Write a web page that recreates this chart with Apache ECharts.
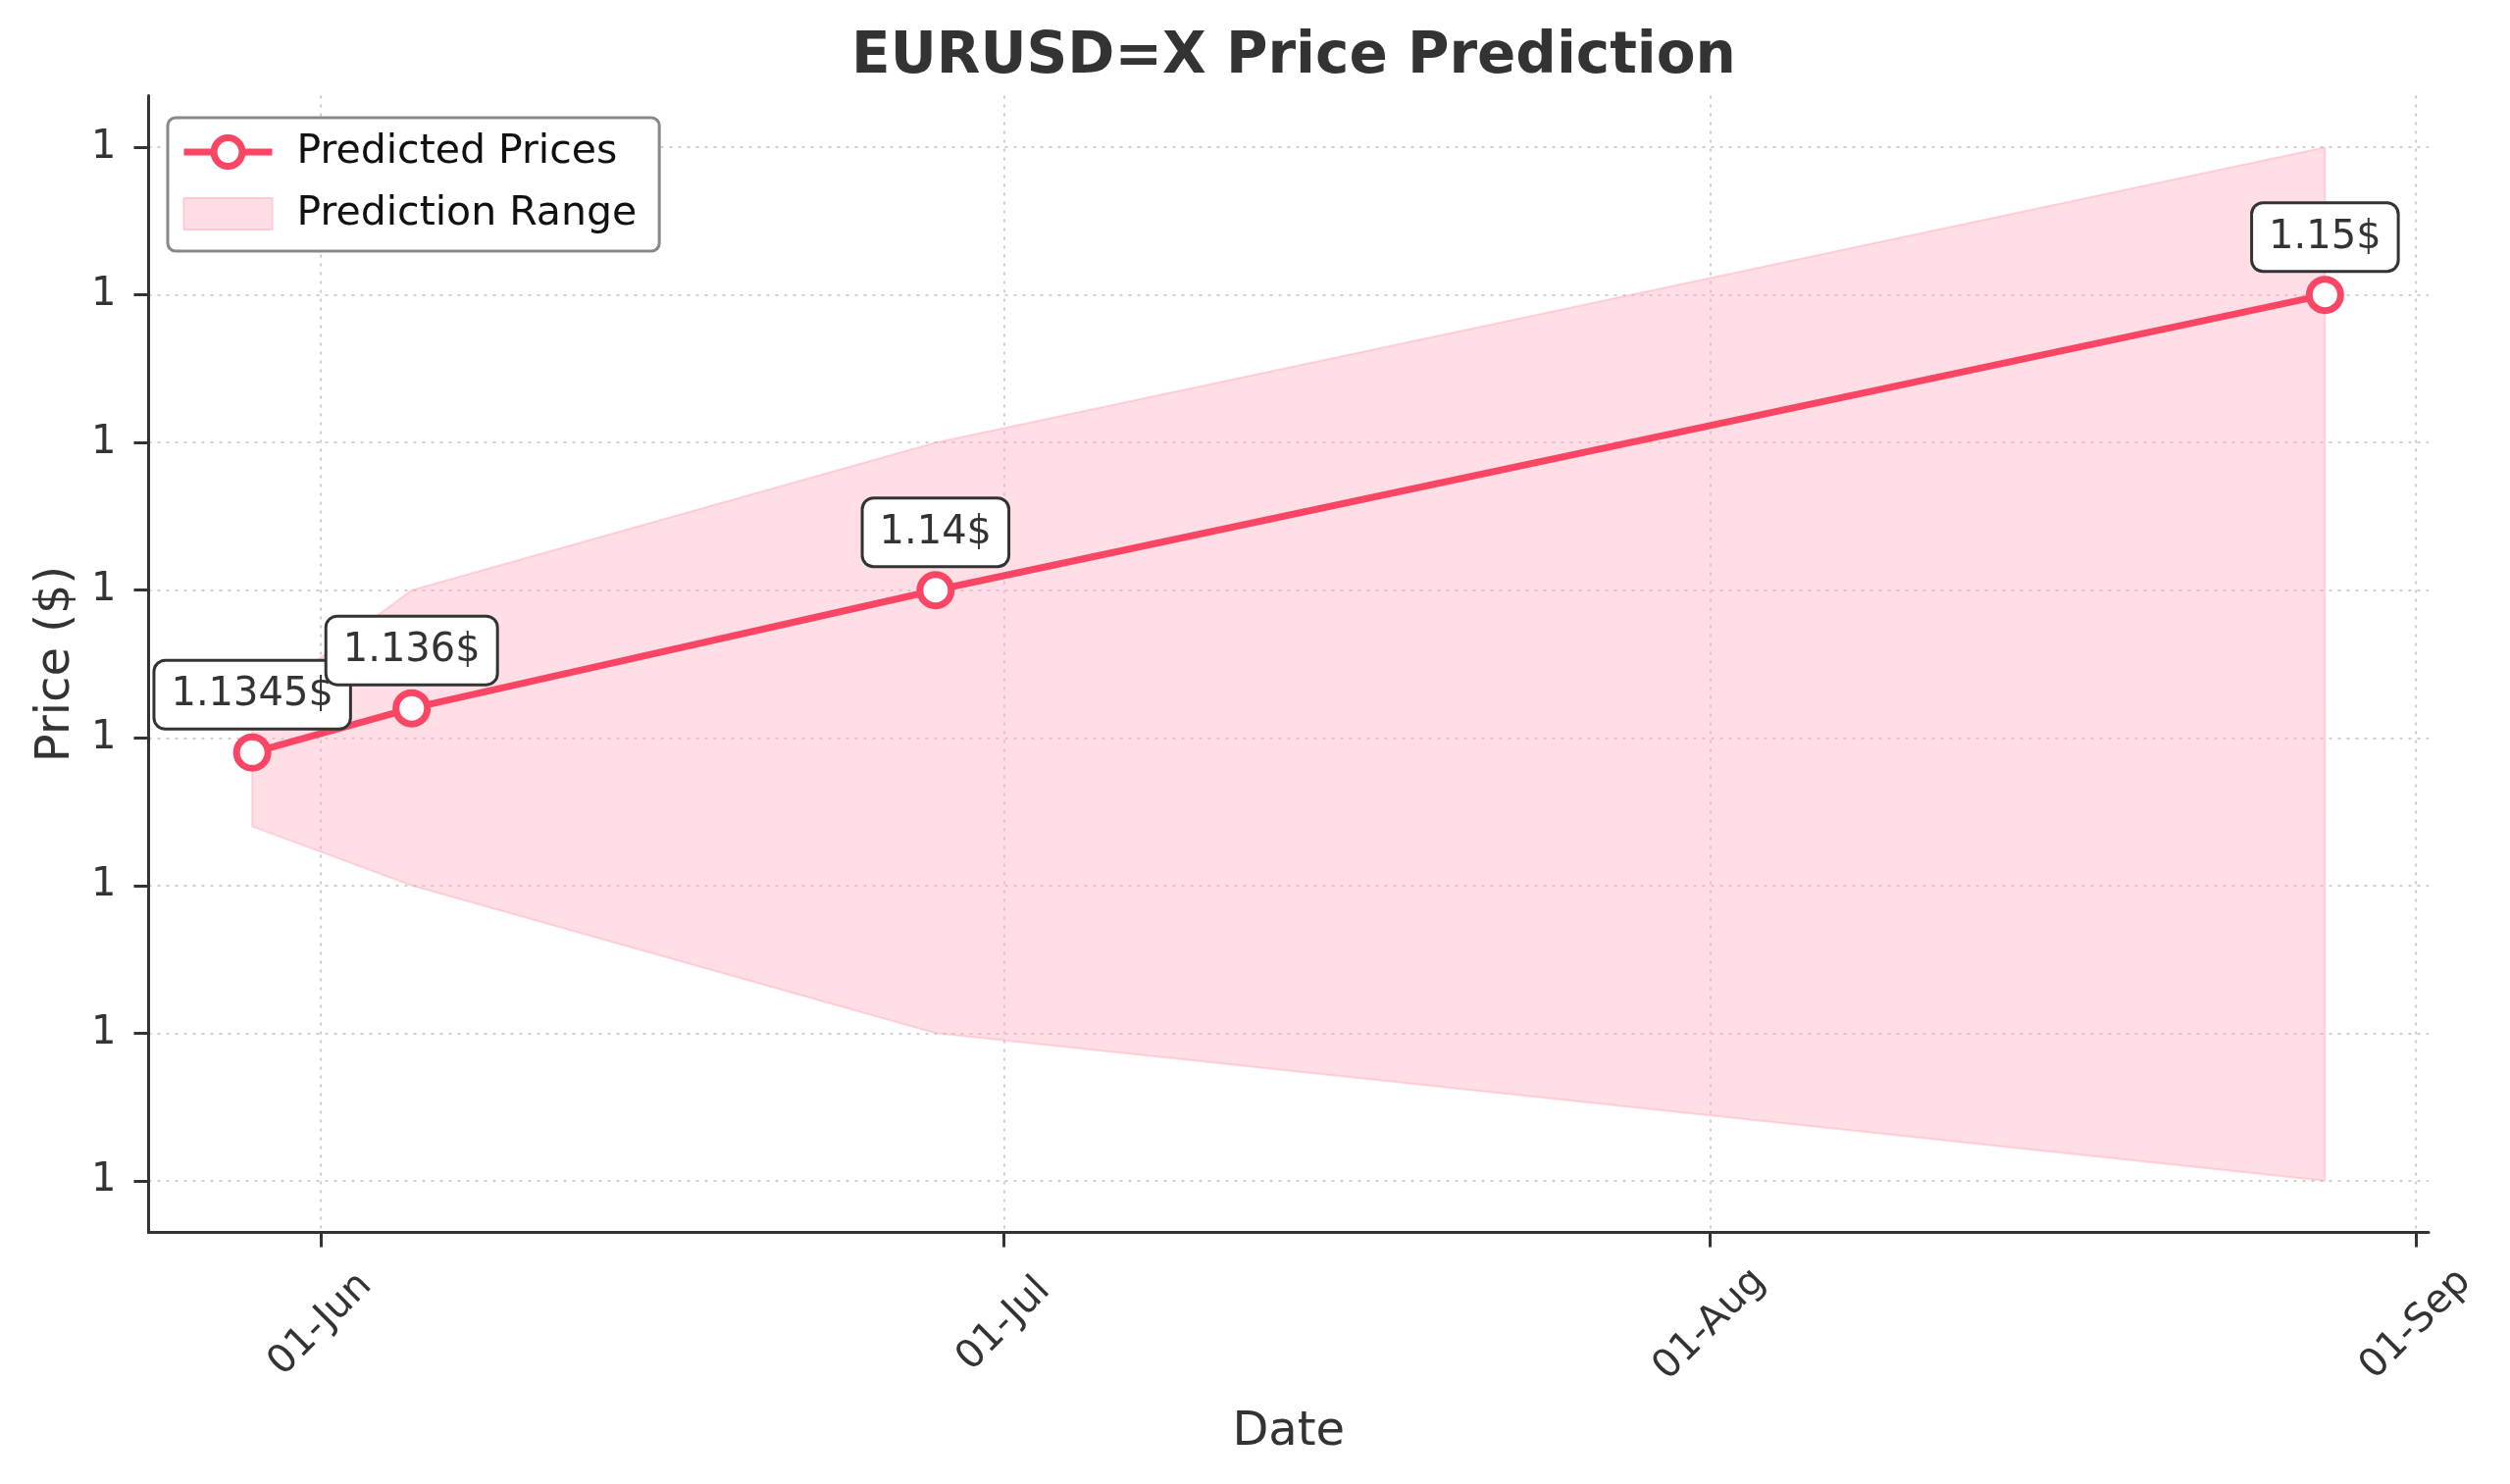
<!DOCTYPE html>
<html>
<head>
<meta charset="utf-8">
<title>EURUSD=X Price Prediction</title>
<script src="https://cdn.jsdelivr.net/npm/echarts@6.0.0/dist/echarts.min.js"></script>
<style>
  html, body { margin: 0; padding: 0; background: #fff; }
  #chart { width: 2559px; height: 1513px; }
</style>
</head>
<body>
<div id="chart"></div>
<script>
// data
var dates = ['2025-05-29', '2025-06-05', '2025-06-28', '2025-08-28'];
var predicted = [1.1345, 1.136, 1.14, 1.15];
var lowerBound = [1.132, 1.13, 1.125, 1.12];
var upperBound = [1.136, 1.14, 1.145, 1.155];
var priceLabels = ['1.1345$', '1.136$', '1.14$', '1.15$'];
var xTickDates = ['2025-06-01', '2025-07-01', '2025-08-01', '2025-09-01'];
var yTicks = [1.12, 1.125, 1.13, 1.135, 1.14, 1.145, 1.15, 1.155];

var months = ['Jan', 'Feb', 'Mar', 'Apr', 'May', 'Jun', 'Jul', 'Aug', 'Sep', 'Oct', 'Nov', 'Dec'];
var lineColor = '#fb4565';
var fillColor = 'rgba(255, 176, 190, 0.4)';
var edgeColor = 'rgba(255, 150, 172, 0.35)';
var legendFill = '#ffdfe5';

function toTime(s) {
    var p = s.split('-');
    return new Date(+p[0], +p[1] - 1, +p[2]).getTime();
}

var xs = dates.map(toTime);
var xTicks = xTickDates.map(toTime);

// matplotlib style 5% margins
var xPad = (xs[xs.length - 1] - xs[0]) * 0.05;
var yMin = Math.min.apply(null, lowerBound);
var yMax = Math.max.apply(null, upperBound);
var yPad = (yMax - yMin) * 0.05;

// whole band drawn once, as one polygon through all points
function renderBand(params, api) {
    if (params.dataIndexInside !== 0) {
        return null;
    }
    var n = params.dataInsideLength;
    var top = [], bottom = [];
    for (var j = 0; j < n; j++) {
        var t = api.value(0, j);
        top.push(api.coord([t, api.value(2, j)]));
        bottom.unshift(api.coord([t, api.value(1, j)]));
    }
    return {
        type: 'polygon',
        shape: { points: top.concat(bottom) },
        style: { fill: fillColor, stroke: edgeColor, lineWidth: 2 }
    };
}

var myChart = echarts.init(document.getElementById('chart'));

var option = {
    backgroundColor: '#fff',
    animation: false,
    title: {
        text: 'EURUSD=X Price Prediction',
        left: 1314,
        top: 25,
        textAlign: 'center',
        textStyle: {
            fontFamily: 'DejaVu Sans',
            fontSize: 58,
            fontWeight: 'bold',
            color: '#333'
        }
    },
    grid: {
        left: 151.5,
        right: 83,
        top: 97.5,
        bottom: 256.5
    },
    legend: {
        orient: 'vertical',
        left: 171,
        top: 120,
        backgroundColor: '#fff',
        borderColor: '#888',
        borderWidth: 3,
        borderRadius: 8,
        padding: [11, 23, 14, 13],
        itemWidth: 90,
        itemHeight: 36,
        itemGap: 15,
        textStyle: {
            fontFamily: 'DejaVu Sans',
            fontSize: 41,
            lineHeight: 48,
            color: '#111',
            padding: [0, 0, 0, 20]
        },
        data: [
            {
                name: 'Predicted Prices',
                lineStyle: { color: lineColor, width: 7 },
                itemStyle: { color: '#fff', borderColor: lineColor, borderWidth: 7 }
            },
            {
                name: 'Prediction Range',
                icon: 'path://M2,3 L86,3 L86,33 L2,33 Z',
                itemStyle: { color: legendFill, borderColor: '#ffcad4', borderWidth: 2 }
            }
        ]
    },
    xAxis: {
        type: 'value',
        name: 'Date',
        nameLocation: 'middle',
        nameGap: 180,
        nameTextStyle: { fontFamily: 'DejaVu Sans', fontSize: 48, color: '#333' },
        min: xs[0] - xPad,
        max: xs[xs.length - 1] + xPad,
        axisLine: { show: true, lineStyle: { color: '#333', width: 3 } },
        axisTick: {
            show: true,
            customValues: xTicks,
            length: 15,
            lineStyle: { color: '#333', width: 3 }
        },
        axisLabel: {
            customValues: xTicks,
            rotate: 45,
            align: 'center',
            verticalAlign: 'middle',
            margin: 94,
            fontFamily: 'DejaVu Sans',
            fontSize: 40,
            color: '#333',
            formatter: function (v) {
                var d = new Date(v);
                var dd = d.getDate();
                return (dd < 10 ? '0' + dd : dd) + '-' + months[d.getMonth()];
            }
        },
        splitLine: {
            show: true,
            lineStyle: { color: '#cfcfcf', width: 2, type: [3, 6] }
        }
    },
    yAxis: {
        type: 'value',
        name: 'Price ($)',
        nameLocation: 'middle',
        nameGap: 70,
        nameTextStyle: { fontFamily: 'DejaVu Sans', fontSize: 48, color: '#333' },
        min: yMin - yPad,
        max: yMax + yPad,
        axisLine: { show: true, lineStyle: { color: '#333', width: 3 } },
        axisTick: {
            show: true,
            customValues: yTicks,
            length: 15,
            lineStyle: { color: '#333', width: 3 }
        },
        axisLabel: {
            customValues: yTicks,
            margin: 33,
            fontFamily: 'DejaVu Sans',
            fontSize: 40,
            color: '#333',
            formatter: function (v) {
                return v.toFixed(0);
            }
        },
        splitLine: {
            show: true,
            lineStyle: { color: '#cfcfcf', width: 2, type: [3, 6] }
        }
    },
    series: [
        {
            name: 'Prediction Range',
            type: 'custom',
            silent: true,
            renderItem: renderBand,
            itemStyle: { color: legendFill },
            encode: { x: 0, y: [1, 2] },
            data: xs.map(function (t, i) { return [t, lowerBound[i], upperBound[i]]; }),
            z: 1
        },
        {
            name: 'Predicted Prices',
            type: 'line',
            symbol: 'circle',
            symbolSize: 32,
            lineStyle: { color: lineColor, width: 7 },
            itemStyle: { color: '#fff', borderColor: lineColor, borderWidth: 7 },
            label: {
                show: true,
                position: 'top',
                distance: 6,
                fontFamily: 'DejaVu Sans',
                fontSize: 40,
                lineHeight: 48,
                color: '#333',
                backgroundColor: '#fff',
                borderColor: '#333',
                borderWidth: 3,
                borderRadius: 10,
                padding: [10, 16, 9, 16],
                formatter: function (p) {
                    return priceLabels[p.dataIndex];
                }
            },
            data: xs.map(function (t, i) { return [t, predicted[i]]; }),
            z: 5
        }
    ]
};

myChart.setOption(option);
</script>
</body>
</html>
